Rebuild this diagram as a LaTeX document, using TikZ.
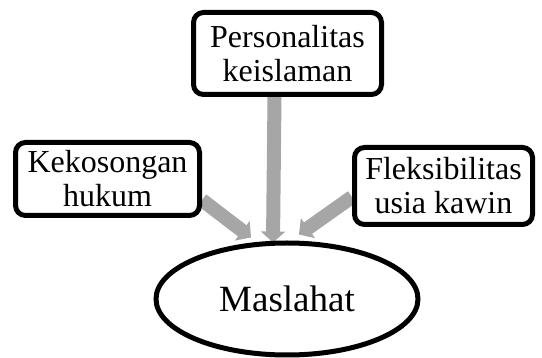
\documentclass[tikz,border=0pt]{standalone}
\usepackage{fontspec}
\setmainfont{Liberation Serif}
\usetikzlibrary{shapes.geometric,arrows.meta,backgrounds}
\definecolor{abu}{HTML}{A6A6A6}
\begin{document}
\begin{tikzpicture}[
      x=1pt, y=-1pt,
      font=\fontsize{32}{34}\selectfont,
      kotak/.style={draw, line width=5pt, rounded corners=10pt, fill=white, align=center, inner sep=0pt},
      panah/.style={draw=abu, line width=14pt, -{Triangle[width=24pt,length=11pt]}}
    ]
      \useasboundingbox (0,0) rectangle (542,358);
      \node[kotak, minimum width=188pt, minimum height=82pt] (pribadi) at (287.5,53.5) {Personalitas\\ keislaman};
      \node[kotak, minimum width=184pt, minimum height=73pt] (kosong) at (107.5,179) {Kekosongan\\ hukum};
      \node[kotak, minimum width=178pt, minimum height=77pt] (fleks) at (443.5,186) {Fleksibilitas\\ usia kawin};
      \node[ellipse, draw, line width=5pt, minimum width=262pt, minimum height=112pt, inner sep=0pt,
        font=\fontsize{37}{40}\selectfont] (maslahat) at (287,299) {Maslahat};

      \begin{scope}[on background layer]
        \draw[panah] ([xshift=-13pt]pribadi.south) -- ([xshift=-14pt, yshift=-2pt]maslahat.north);
        \draw[panah] ([yshift=-21pt]kosong.east) -- ([xshift=-36pt, yshift=3pt]maslahat.north);
        \draw[panah] ([yshift=-11pt]fleks.west) -- ([xshift=12pt, yshift=6pt]maslahat.north);
      \end{scope}
    \end{tikzpicture}
\end{document}
